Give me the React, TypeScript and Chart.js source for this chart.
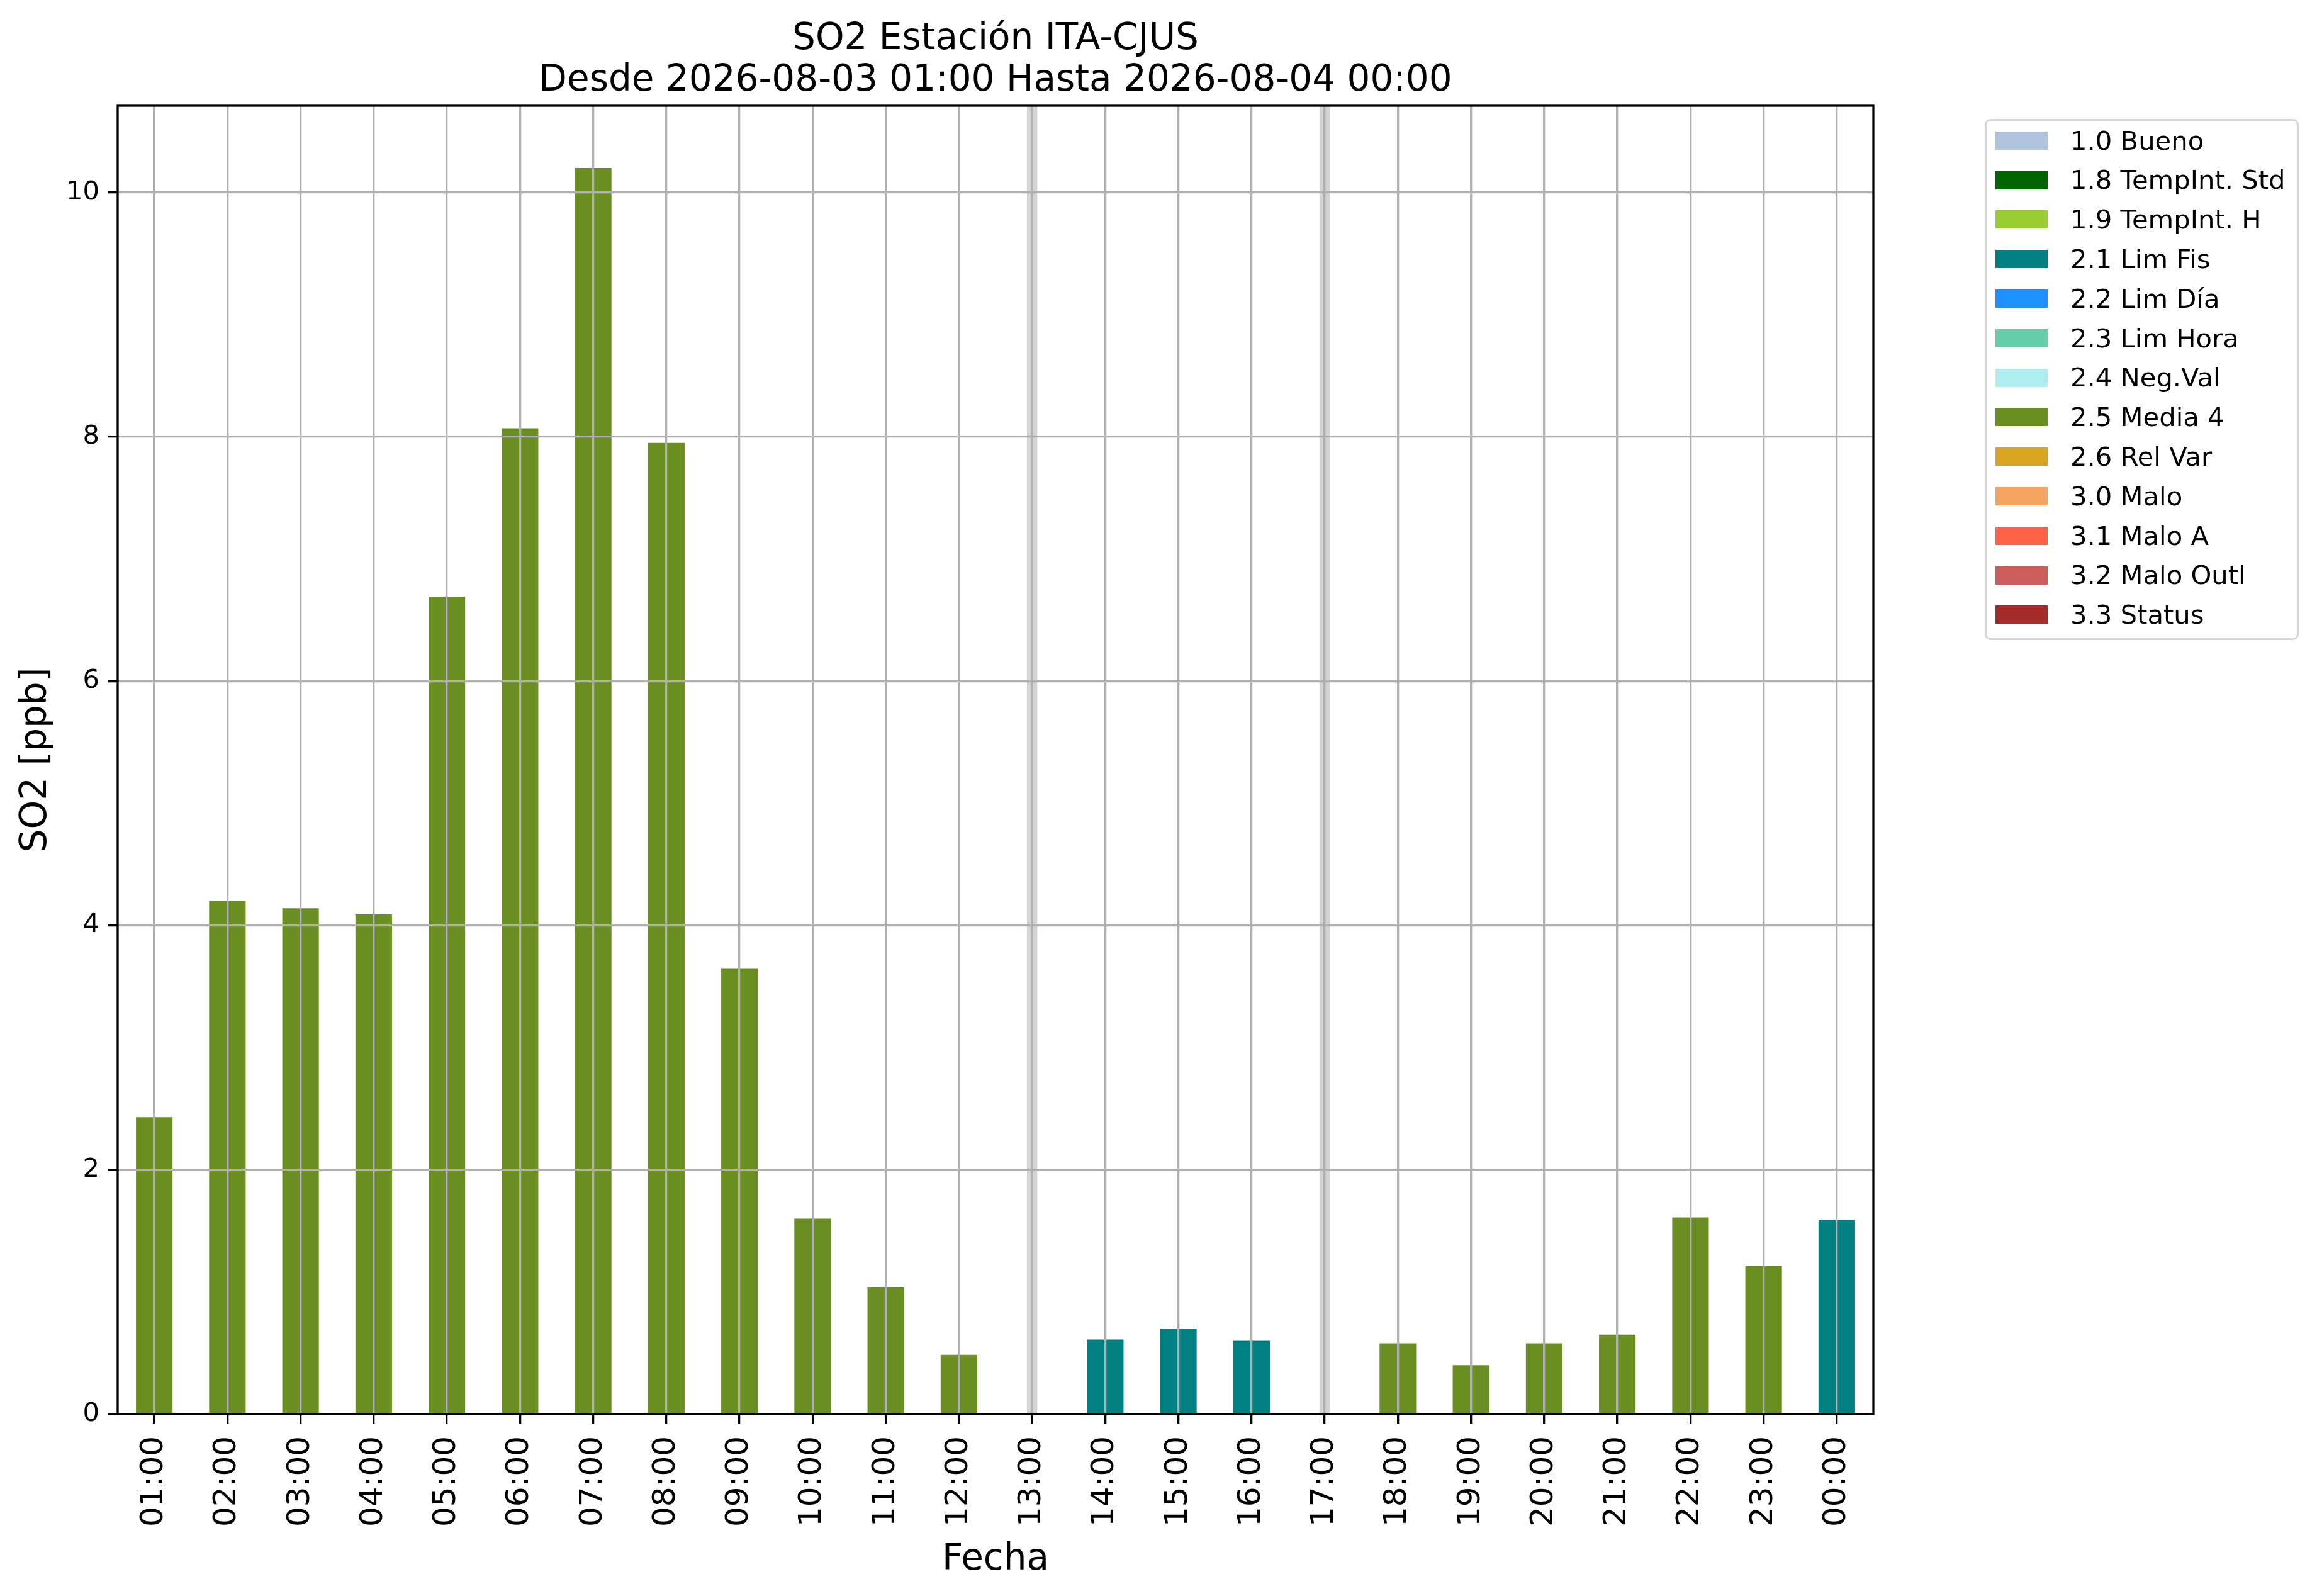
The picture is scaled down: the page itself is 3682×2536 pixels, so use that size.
import { useEffect, useRef } from "react";
import { Chart, registerables } from "chart.js";
import type { Plugin } from "chart.js";

Chart.register(...registerables);

const hours = [
  "01:00", "02:00", "03:00", "04:00", "05:00", "06:00", "07:00", "08:00",
  "09:00", "10:00", "11:00", "12:00", "13:00", "14:00", "15:00", "16:00",
  "17:00", "18:00", "19:00", "20:00", "21:00", "22:00", "23:00", "00:00",
];
// null = no data for that hour (drawn as a grey band)
const so2 = [
  2.43, 4.2, 4.14, 4.09, 6.69, 8.07, 10.2, 7.95,
  3.65, 1.6, 1.04, 0.485, null, 0.61, 0.7, 0.6,
  null, 0.58, 0.4, 0.58, 0.65, 1.61, 1.21, 1.59,
];
const hourFlags = [
  "2.5", "2.5", "2.5", "2.5", "2.5", "2.5", "2.5", "2.5",
  "2.5", "2.5", "2.5", "2.5", null, "2.1", "2.1", "2.1",
  null, "2.5", "2.5", "2.5", "2.5", "2.5", "2.5", "2.1",
];

const flagCodes = ["1.0", "1.8", "1.9", "2.1", "2.2", "2.3", "2.4", "2.5", "2.6", "3.0", "3.1", "3.2", "3.3"];
const flagNames = [
  "Bueno", "TempInt. Std", "TempInt. H", "Lim Fis", "Lim Día", "Lim Hora",
  "Neg.Val", "Media 4", "Rel Var", "Malo", "Malo A", "Malo Outl", "Status",
];
const flagColors = [
  "#b0c4de", "#006400", "#9acd32", "#008080", "#1e90ff", "#66cdaa",
  "#afeeee", "#6b8e23", "#daa520", "#f4a460", "#ff6347", "#cd5c5c", "#a52a2a",
];

const yMax = 10.71;
const yStep = 2;

const FONT = "'DejaVu Sans', sans-serif";
const W = 3682;
const H = 2536;

// light grey band on hours without data
const missingBands: Plugin = {
  id: "missingBands",
  beforeDatasetsDraw(chart) {
    const { ctx, chartArea, scales } = chart;
    ctx.save();
    ctx.fillStyle = "#d3d3d3";
    so2.forEach((v, i) => {
      if (v !== null) return;
      const x = scales.x.getPixelForValue(i);
      ctx.fillRect(x - 8.25, chartArea.top, 16.5, chartArea.bottom - chartArea.top);
    });
    ctx.restore();
  },
};

// matplotlib-like box around the axes
const frame: Plugin = {
  id: "frame",
  afterDraw(chart) {
    const { ctx, chartArea } = chart;
    ctx.save();
    ctx.strokeStyle = "#000";
    ctx.lineWidth = 3.3;
    ctx.strokeRect(chartArea.left, chartArea.top, chartArea.right - chartArea.left, chartArea.bottom - chartArea.top);
    ctx.restore();
  },
};

function So2Chart() {
  const canvasRef = useRef<HTMLCanvasElement>(null);
  const chartRef = useRef<Chart | null>(null);

  useEffect(() => {
    if (!canvasRef.current) return;
    chartRef.current?.destroy();
    Chart.defaults.font.family = FONT;
    Chart.defaults.color = "#000";
    chartRef.current = new Chart(canvasRef.current, {
      type: "bar",
      data: {
        labels: hours,
        datasets: [
          {
            label: "SO2",
            data: so2,
            backgroundColor: hourFlags.map((f) => flagColors[flagCodes.indexOf(f as string)] ?? "transparent"),
            borderWidth: 0,
            barPercentage: 0.5,
            categoryPercentage: 1,
          },
        ],
      },
      options: {
        animation: false,
        responsive: true,
        maintainAspectRatio: false,
        devicePixelRatio: 1,
        layout: { padding: { left: 0, right: W - 2977, top: 0, bottom: 0 } },
        plugins: {
          legend: { display: false },
          tooltip: { enabled: false },
          title: {
            display: true,
            fullSize: false,
            text: ["SO2 Estación ITA-CJUS", "Desde 2026-08-03 01:00 Hasta 2026-08-04 00:00"],
            color: "#000",
            font: { family: FONT, size: 58, weight: "normal", lineHeight: 66 / 58 },
            padding: { top: 30, bottom: 6 },
          },
        },
        scales: {
          x: {
            offset: true,
            afterFit: (s) => {
              s.height = H - 2247;
            },
            grid: {
              z: 1,
              offset: false,
              color: "#b0b0b0",
              lineWidth: 3.3,
              tickColor: "#000",
              tickLength: 15,
              tickWidth: 3.3,
            },
            border: { display: false },
            ticks: {
              autoSkip: false,
              minRotation: 90,
              maxRotation: 90,
              padding: 20,
              color: "#000",
              font: { family: FONT, size: 50 },
            },
            title: {
              display: true,
              text: "Fecha",
              color: "#000",
              font: { family: FONT, size: 58 },
              padding: { top: 0, bottom: 22 },
            },
          },
          y: {
            min: 0,
            max: yMax,
            afterFit: (s) => {
              s.width = 187;
            },
            grid: {
              z: 1,
              color: "#b0b0b0",
              lineWidth: 3.3,
              tickColor: "#000",
              tickLength: 15,
              tickWidth: 3.3,
            },
            border: { display: false },
            ticks: {
              stepSize: yStep,
              includeBounds: false,
              padding: 14,
              color: "#000",
              font: { family: FONT, size: 41.7 },
            },
            title: {
              display: true,
              text: "SO2 [ppb]",
              color: "#000",
              font: { family: FONT, size: 58 },
              padding: { top: 23, bottom: 0 },
            },
          },
        },
      },
      plugins: [missingBands, frame],
    });
    return () => chartRef.current?.destroy();
  }, []);

  return (
    <div style={{ position: "fixed", left: 0, top: 0, width: W, height: H, background: "#fff" }}>
      <canvas ref={canvasRef} role="img" aria-label="SO2 hourly bars, ITA-CJUS station" />
      <div
        style={{
          position: "absolute",
          left: 3154,
          top: 189,
          width: 499,
          height: 828,
          boxSizing: "border-box",
          border: "3.3px solid #d6d6d6",
          borderRadius: 9,
          background: "rgba(255,255,255,0.8)",
          fontFamily: FONT,
          fontSize: 41.7,
          color: "#000",
        }}
      >
        {flagCodes.map((code, i) => (
          <div key={code} style={{ display: "flex", alignItems: "center", height: 62.8, paddingLeft: 14 }}>
            <span style={{ display: "inline-block", width: 83, height: 29, background: flagColors[i], marginRight: 36 }} />
            <span style={{ whiteSpace: "nowrap", lineHeight: 1 }}>
              {code} {flagNames[i]}
            </span>
          </div>
        ))}
      </div>
    </div>
  );
}

export default function App() {
  return <So2Chart />;
}
